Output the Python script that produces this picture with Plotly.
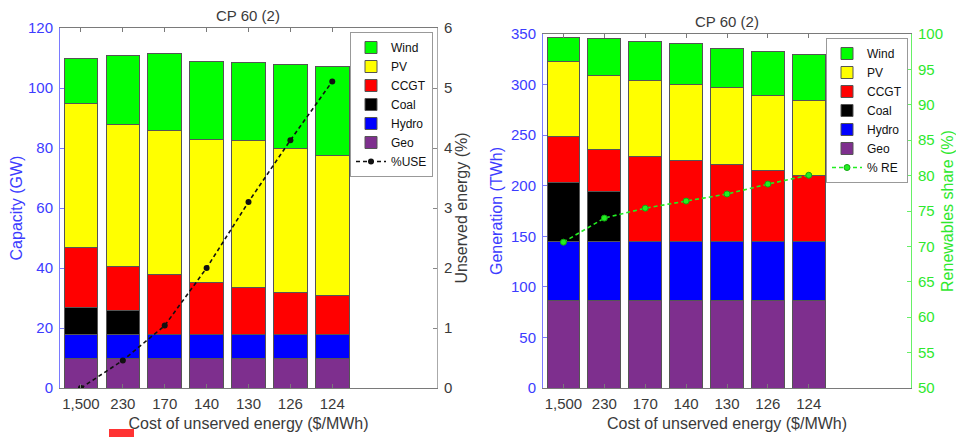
import plotly.graph_objects as go

# ---------------- data ----------------
categories = ["1,500", "230", "170", "140", "130", "126", "124"]

# Left: installed capacity (GW)
cap_geo = [10.0, 10.0, 10.0, 10.0, 10.0, 10.0, 10.0]
cap_hydro = [8.0, 8.0, 8.0, 8.0, 8.0, 8.0, 8.0]
cap_coal = [9.0, 7.8, 0, 0, 0, 0, 0]
cap_ccgt = [19.7, 14.6, 19.8, 17.3, 15.6, 14.0, 12.8]
cap_pv = [48.1, 47.3, 48.2, 47.6, 49.0, 47.8, 46.8]
cap_wind = [15.1, 23.3, 25.6, 26.0, 25.8, 27.9, 29.5]
use_pct = [0.0, 0.46, 1.04, 2.0, 3.1, 4.13, 5.11]

# Right: generation (TWh)
gen_geo = [86.5, 86.5, 86.5, 86.5, 86.5, 86.5, 86.5]
gen_hydro = [58.5, 58.5, 58.5, 58.5, 58.5, 58.5, 58.5]
gen_coal = [58.0, 48.8, 0, 0, 0, 0, 0]
gen_ccgt = [45.6, 41.6, 83.8, 79.8, 75.9, 69.9, 65.3]
gen_pv = [74.6, 73.6, 75.6, 75.0, 75.9, 74.6, 73.6]
gen_wind = [23.4, 36.3, 38.6, 40.6, 39.3, 43.3, 45.6]
re_share = [70.6, 74.0, 75.4, 76.4, 77.4, 78.8, 80.05]

tech_names = ["Geo", "Hydro", "Coal", "CCGT", "PV", "Wind"]
tech_colors = {"Geo": "#7E2F8E", "Hydro": "#0000FF", "Coal": "#000000",
               "CCGT": "#FF0000", "PV": "#FFFF00", "Wind": "#00FF00"}
tech_rank = {"Wind": 1, "PV": 2, "CCGT": 3, "Coal": 4, "Hydro": 5, "Geo": 6}

cap_series = [cap_geo, cap_hydro, cap_coal, cap_ccgt, cap_pv, cap_wind]
gen_series = [gen_geo, gen_hydro, gen_coal, gen_ccgt, gen_pv, gen_wind]

W, H = 956, 437
FONT = "Liberation Sans, Arial, sans-serif"
BLUE_TXT = "#3c3cff"
BLUE_LINE = "#7a7aff"
GREEN_TXT = "#2ee82e"
GREEN_LINE = "#66f066"
GRAY = "#7a7a7a"
DARK = "#3a3a3a"

fig = go.Figure()

for name, vals in zip(tech_names, cap_series):
    fig.add_trace(go.Bar(
        x=categories, y=vals, name=name, width=0.8,
        marker=dict(color=tech_colors[name], line=dict(color="#555555", width=1)),
        xaxis="x", yaxis="y", legend="legend", legendrank=tech_rank[name]))

fig.add_trace(go.Scatter(
    x=categories, y=use_pct, name="%USE", mode="lines+markers",
    line=dict(color="#111111", width=1.6, dash="4px,3px"),
    marker=dict(symbol="circle", size=6, color="#111111"),
    xaxis="x", yaxis="y2", legend="legend", legendrank=7))

for name, vals in zip(tech_names, gen_series):
    fig.add_trace(go.Bar(
        x=categories, y=vals, name=name, width=0.8,
        marker=dict(color=tech_colors[name], line=dict(color="#555555", width=1)),
        xaxis="x2", yaxis="y3", legend="legend2", legendrank=tech_rank[name]))

fig.add_trace(go.Scatter(
    x=categories, y=re_share, name="% RE", mode="lines+markers",
    line=dict(color="#22ee22", width=1.6, dash="4px,3px"),
    marker=dict(symbol="circle", size=6, color="#22ee22",
                line=dict(color="#11aa11", width=1)),
    xaxis="x2", yaxis="y4", legend="legend2", legendrank=7))

xl = [60 / W, 437 / W]
xr = [543 / W, 911 / W]
yl = [1 - 388 / H, 1 - 28 / H]
yr = [1 - 388 / H, 1 - 34 / H]

common_x = dict(type="category", range=[-0.5, 8.5], showline=True, linecolor=GRAY,
                linewidth=1, mirror="ticks", ticks="inside", ticklen=4, tickcolor=GRAY,
                tickfont=dict(size=15, color=DARK, family=FONT), showgrid=False,
                zeroline=False, ticklabelstandoff=2, automargin=False,
                title=dict(text="Cost of unserved energy ($/MWh)",
                           font=dict(size=16, color=DARK, family=FONT), standoff=6))

legend_common = dict(xanchor="right", yanchor="top", bgcolor="white",
                     bordercolor="#999999", borderwidth=1,
                     font=dict(size=12, color="#111111", family=FONT),
                     traceorder="normal", itemwidth=30, tracegroupgap=0)

fig.update_layout(
    width=W, height=H, autosize=False,
    margin=dict(l=0, r=0, t=0, b=0, autoexpand=False),
    paper_bgcolor="white", plot_bgcolor="white",
    barmode="stack", font=dict(family=FONT),
    xaxis=dict(domain=xl, anchor="y", **common_x),
    yaxis=dict(domain=yl, anchor="x", range=[0, 120], dtick=20, showline=True,
               linecolor=BLUE_LINE, ticks="inside", ticklen=4, tickcolor=BLUE_LINE,
               tickfont=dict(size=15, color=BLUE_TXT, family=FONT), showgrid=False,
               zeroline=False, ticklabelstandoff=3, automargin=False,
               title=dict(text="Capacity (GW)", font=dict(size=16, color=BLUE_TXT, family=FONT),
                          standoff=1)),
    yaxis2=dict(overlaying="y", anchor="x", side="right", range=[0, 6], dtick=1,
                showline=True, linecolor="#aaaaaa", ticks="inside", ticklen=4,
                tickcolor="#888888", tickfont=dict(size=15, color=DARK, family=FONT),
                showgrid=False, zeroline=False, ticklabelstandoff=3, automargin=False,
                title=dict(text="Unserved energy (%)", font=dict(size=16, color=DARK, family=FONT),
                           standoff=4)),
    xaxis2=dict(domain=xr, anchor="y3", **common_x),
    yaxis3=dict(domain=yr, anchor="x2", range=[0, 350], dtick=50, showline=True,
                linecolor=BLUE_LINE, ticks="inside", ticklen=4, tickcolor=BLUE_LINE,
                tickfont=dict(size=15, color=BLUE_TXT, family=FONT), showgrid=False,
                zeroline=False, ticklabelstandoff=3, automargin=False,
                title=dict(text="Generation (TWh)", font=dict(size=16, color=BLUE_TXT, family=FONT),
                           standoff=4)),
    yaxis4=dict(overlaying="y3", anchor="x2", side="right", range=[50, 100], dtick=5,
                showline=True, linecolor=GREEN_LINE, ticks="inside", ticklen=4,
                tickcolor=GREEN_LINE, tickfont=dict(size=15, color=GREEN_TXT, family=FONT),
                showgrid=False, zeroline=False, ticklabelstandoff=3, automargin=False,
                title=dict(text="Renewables share (%)",
                           font=dict(size=16, color=GREEN_TXT, family=FONT), standoff=4)),
    legend=dict(x=433 / W, y=1 - 32 / H, **legend_common),
    legend2=dict(x=908 / W, y=1 - 38 / H, **legend_common),
    annotations=[
        dict(text="CP 60 (2)", x=248 / W, y=1 - 15 / H, xref="paper", yref="paper",
             xanchor="center", yanchor="middle", showarrow=False,
             font=dict(size=15, color=DARK, family=FONT)),
        dict(text="CP 60 (2)", x=727 / W, y=1 - 22 / H, xref="paper", yref="paper",
             xanchor="center", yanchor="middle", showarrow=False,
             font=dict(size=15, color=DARK, family=FONT)),
    ],
    shapes=[
        dict(type="rect", xref="paper", yref="paper", x0=109 / W, x1=134 / W,
             y0=0, y1=1 - 429 / H, fillcolor="#ff3333", line=dict(width=0), layer="above"),
    ],
)

fig.write_html("out.html")
